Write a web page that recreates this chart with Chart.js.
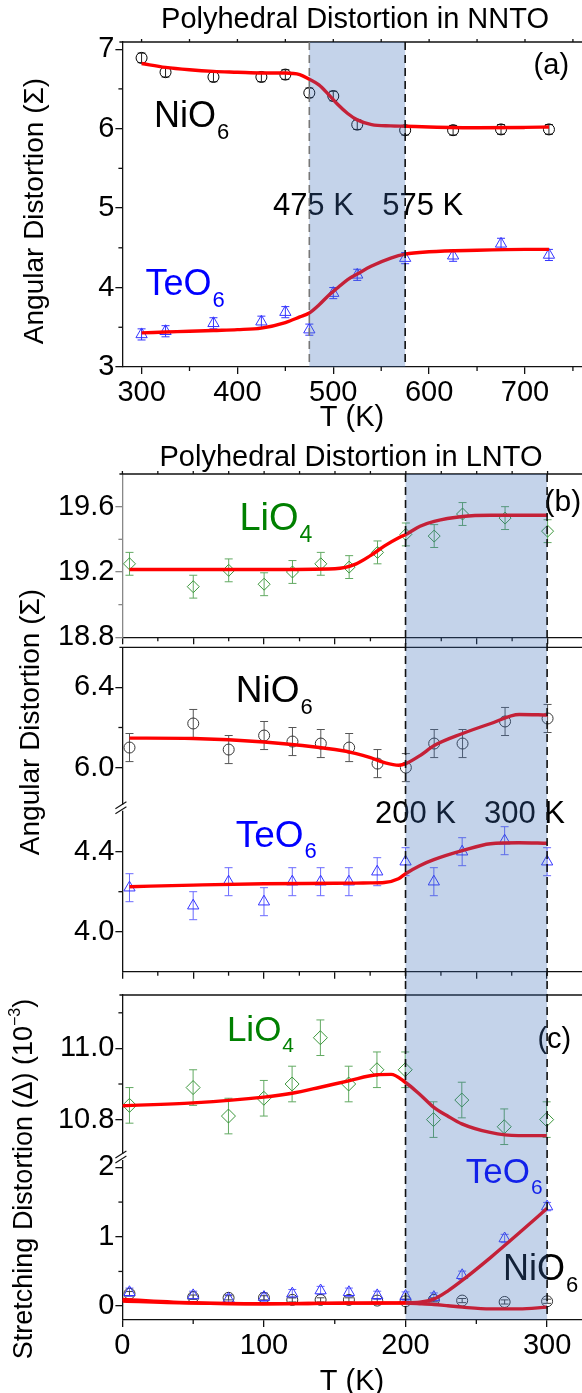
<!DOCTYPE html>
<html>
<head>
<meta charset="utf-8">
<script src="https://cdn.jsdelivr.net/npm/chart.js@4.4.1/dist/chart.umd.min.js"></script>
<style>
  html, body { margin: 0; padding: 0; background: #fff; overflow: hidden; }
  #page { position: relative; width: 582px; height: 1393px; overflow: hidden; }
  #page canvas { position: absolute; left: 0; top: 0; }
</style>
</head>
<body>
<div id="page"></div>
<script>
// ---- (a) NNTO, angular distortion ----
var aTemp = [300, 325, 375, 425, 450, 475, 500, 525, 575, 625, 675, 725]
var aNiO6 = [6.89, 6.71, 6.65, 6.65, 6.68, 6.45, 6.41, 6.05, 5.98, 5.98, 5.99, 5.99]
var aNiO6Err = [0.06, 0.06, 0.06, 0.06, 0.06, 0.06, 0.06, 0.06, 0.06, 0.06, 0.06, 0.06]
var aTeO6 = [3.41, 3.45, 3.55, 3.57, 3.69, 3.47, 3.93, 4.16, 4.37, 4.40, 4.55, 4.41]
var aTeO6Err = [0.07, 0.07, 0.07, 0.07, 0.07, 0.07, 0.07, 0.07, 0.07, 0.07, 0.07, 0.07]
var aFitTemp = [300, 325, 350, 375, 400, 425, 450, 465, 475, 485, 495, 505, 515, 525, 540, 560, 575, 600, 650, 700, 725]
var aNiO6Fit = [6.82, 6.77, 6.74, 6.72, 6.71, 6.70, 6.70, 6.68, 6.62, 6.55, 6.43, 6.30, 6.19, 6.11, 6.05, 6.035, 6.03, 6.02, 6.01, 6.015, 6.02]
var aTeO6Fit = [3.43, 3.44, 3.45, 3.46, 3.47, 3.49, 3.56, 3.63, 3.68, 3.78, 3.90, 4.00, 4.10, 4.17, 4.27, 4.37, 4.42, 4.45, 4.47, 4.48, 4.48]
var aTransition = [475, 575]
var aTicksX = [300, 400, 500, 600, 700]
var aMinorX = [350, 450, 550, 650, 750]
var aTicksY = [3, 4, 5, 6, 7]
var aMinorY = [3.5, 4.5, 5.5, 6.5]

// ---- (b) LNTO, angular distortion ----
var bTemp = [5, 50, 75, 100, 120, 140, 160, 180, 200, 220, 240, 270, 300]
var bLiO4 = [19.25, 19.11, 19.21, 19.125, 19.20, 19.25, 19.23, 19.32, 19.43, 19.42, 19.555, 19.53, 19.45]
var bNiO6 = [6.10, 6.22, 6.09, 6.16, 6.13, 6.12, 6.10, 6.02, 6.00, 6.12, 6.12, 6.23, 6.245]
var bTeO6 = [4.22, 4.13, 4.25, 4.15, 4.25, 4.25, 4.25, 4.30, 4.35, 4.25, 4.40, 4.455, 4.35]
var bErr = [0.07, 0.07, 0.07, 0.07, 0.07, 0.07, 0.07, 0.07, 0.07, 0.07, 0.07, 0.07, 0.07]
var bFitTemp = [5, 50, 100, 150, 165, 175, 185, 195, 200, 210, 220, 240, 260, 280, 300]
var bLiO4Fit = [19.215, 19.215, 19.215, 19.22, 19.25, 19.30, 19.36, 19.41, 19.43, 19.48, 19.51, 19.54, 19.547, 19.547, 19.547]
var bNiO6Fit = [6.147, 6.145, 6.128, 6.09, 6.07, 6.05, 6.025, 6.012, 6.02, 6.06, 6.11, 6.17, 6.22, 6.265, 6.262]
var bTeO6Fit = [4.225, 4.233, 4.24, 4.242, 4.243, 4.244, 4.246, 4.265, 4.29, 4.33, 4.36, 4.405, 4.44, 4.445, 4.442]
var lowTransition = [200, 300]

// ---- (c) LNTO, stretching distortion ----
var cLiO4 = [10.84, 10.89, 10.81, 10.86, 10.90, 11.03, 10.90, 10.94, 10.94, 10.80, 10.855, 10.78, 10.80]
var cLiO4Err = [0.05, 0.05, 0.05, 0.05, 0.05, 0.05, 0.05, 0.05, 0.05, 0.05, 0.05, 0.05, 0.05]
var cTeO6 = [0.20, 0.155, 0.105, 0.13, 0.18, 0.225, 0.20, 0.155, 0.145, 0.13, 0.445, 0.975, 1.435]
var cTeO6Err = [0.06, 0.06, 0.06, 0.06, 0.06, 0.06, 0.06, 0.06, 0.06, 0.06, 0.06, 0.06, 0.06]
var cNiO6 = [0.18, 0.13, 0.12, 0.12, 0.09, 0.09, 0.09, 0.08, 0.07, 0.09, 0.08, 0.06, 0.07]
var cNiO6Err = [0.03, 0.03, 0.03, 0.03, 0.03, 0.03, 0.03, 0.03, 0.03, 0.03, 0.03, 0.03, 0.03]
var cFitTemp = [0, 50, 100, 120, 140, 160, 180, 190, 200, 210, 220, 230, 240, 260, 280, 300]
var cLiO4Fit = [10.839, 10.847, 10.863, 10.874, 10.891, 10.909, 10.926, 10.927, 10.905, 10.872, 10.835, 10.81, 10.788, 10.764, 10.755, 10.755]
var cTeO6Fit = [0.097, 0.048, 0.034, 0.036, 0.04, 0.043, 0.046, 0.047, 0.048, 0.055, 0.10, 0.22, 0.37, 0.70, 1.05, 1.41]
var cNiO6Fit = [0.072, 0.043, 0.034, 0.036, 0.04, 0.043, 0.044, 0.044, 0.043, 0.035, 0.024, 0.005, -0.015, -0.04, -0.04, -0.015]

var lowTicks50 = [0, 50, 100, 150, 200, 250, 300]
var lowMinor25 = [25, 75, 125, 175, 225, 275]
var lowTicks100 = [0, 100, 200, 300]
var lowMinor50 = [50, 150, 250]

var W = 590, H = 1393, AXIS_X = 122.4, RIGHT = 583
var FONT = '"Liberation Sans", Arial, Helvetica, sans-serif'
var INK = '#111'
var SHADE = 'rgba(58, 108, 185, 0.3)'

Chart.defaults.font.family = FONT

function xy(xs, ys) {
  return xs.map(function (x, i) { return { x: x, y: ys[i] } })
}

function seg(ctx, x0, y0, x1, y1) {
  ctx.beginPath()
  ctx.moveTo(x0, y0)
  ctx.lineTo(x1, y1)
  ctx.stroke()
}

function points(xs, ys, errs, style, radius, color, barColor) {
  return {
    data: xy(xs, ys), errors: errs, barColor: barColor,
    showLine: false, pointStyle: style, pointRadius: radius,
    borderColor: color, backgroundColor: 'rgba(0,0,0,0)', pointBorderWidth: 1, order: 2
  }
}

function fit(xs, ys) {
  return {
    data: xy(xs, ys), showLine: true, borderColor: '#ff0000', borderWidth: 3.4,
    pointRadius: 0, cubicInterpolationMode: 'monotone', fill: false, order: 0
  }
}

// vertical error bars with caps, under the markers
var errorBars = {
  id: 'errorBars',
  beforeDatasetsDraw: function (chart) {
    var ctx = chart.ctx, ys = chart.scales.y
    chart.data.datasets.forEach(function (ds, i) {
      if (!ds.errors) return
      var meta = chart.getDatasetMeta(i)
      ctx.save()
      ctx.strokeStyle = ds.barColor
      ctx.lineWidth = 1
      meta.data.forEach(function (pt, j) {
        var v = ds.data[j].y, e = ds.errors[j]
        var t = ys.getPixelForValue(v + e), b = ys.getPixelForValue(v - e)
        seg(ctx, pt.x, t, pt.x, b)
        seg(ctx, pt.x - 4, t, pt.x + 4, t)
        seg(ctx, pt.x - 4, b, pt.x + 4, b)
      })
      ctx.restore()
    })
  }
}

// minor ticks, top border and axis-break marks
var frame = {
  id: 'frame',
  afterDraw: function (chart, args, o) {
    var ctx = chart.ctx, a = chart.chartArea, xs = chart.scales.x, ys = chart.scales.y
    ctx.save()
    ctx.lineWidth = 1.3
    ctx.strokeStyle = o.yColor || INK
    ;(o.yMinor || []).forEach(function (v) {
      var p = ys.getPixelForValue(v)
      seg(ctx, a.left - 4, p, a.left, p)
    })
    ctx.strokeStyle = INK
    ;(o.xMinor || []).forEach(function (v) {
      var p = xs.getPixelForValue(v)
      seg(ctx, p, a.bottom, p, a.bottom + 4)
    })
    if (o.top) {
      seg(ctx, a.left - 3, a.top, a.right, a.top)
      ;(o.topTicks || []).forEach(function (v) {
        var p = xs.getPixelForValue(v)
        seg(ctx, p, a.top, p, a.top - 3)
      })
    }
    if (o.brk) {
      ctx.fillStyle = '#fff'
      ctx.fillRect(a.left - 2, a.top - 3, 4, 6)
      ctx.lineWidth = 1.1
      seg(ctx, a.left - 7, a.top + 1, a.left + 4, a.top - 6)
      seg(ctx, a.left - 7, a.top + 6, a.left + 4, a.top - 1)
    }
    ctx.restore()
  }
}

// series names and annotations placed in data units
var notes = {
  id: 'notes',
  afterDatasetsDraw: function (chart, args, o) {
    var ctx = chart.ctx, xs = chart.scales.x, ys = chart.scales.y
    ;(o.items || []).forEach(function (n) {
      var x = xs.getPixelForValue(n.x), y = ys.getPixelForValue(n.y)
      ctx.save()
      ctx.fillStyle = n.color || '#000'
      ctx.textAlign = 'left'
      ctx.textBaseline = 'alphabetic'
      ctx.font = n.size + 'px ' + FONT
      ctx.fillText(n.text, x, y)
      if (n.sub) {
        var w = ctx.measureText(n.text).width
        ctx.font = Math.round(n.size * 0.6) + 'px ' + FONT
        ctx.fillText(n.sub, x + w + 1, y + n.size * 0.32)
      }
      ctx.restore()
    })
  }
}

// axis titles and panel headings, page units
var texts = {
  id: 'texts',
  afterDraw: function (chart, args, o) {
    var ctx = chart.ctx
    ;(o.items || []).forEach(function (t) {
      ctx.save()
      ctx.translate(t.x, t.y)
      if (t.rotate) ctx.rotate(-Math.PI / 2)
      ctx.fillStyle = '#000'
      ctx.textBaseline = 'middle'
      ctx.textAlign = 'left'
      var f = t.size + 'px ' + FONT, fs = Math.round(t.size * 0.6) + 'px ' + FONT
      ctx.font = f
      var w1 = ctx.measureText(t.text).width, w2 = 0, w3 = 0
      if (t.sup) {
        w3 = ctx.measureText(t.tail).width
        ctx.font = fs
        w2 = ctx.measureText(t.sup).width
        ctx.font = f
      }
      var x = -(w1 + w2 + w3) / 2
      ctx.fillText(t.text, x, 0)
      if (t.sup) {
        ctx.font = fs
        ctx.fillText(t.sup, x + w1, -t.size * 0.36)
        ctx.font = f
        ctx.fillText(t.tail, x + w1 + w2, 0)
      }
      ctx.restore()
    })
  }
}

// transition band and dashed markers, drawn over everything beneath
var band = {
  id: 'band',
  afterDraw: function (chart, args, o) {
    if (!o.range) return
    var ctx = chart.ctx, a = chart.chartArea, xs = chart.scales.x
    var top = o.top != null ? o.top : a.top
    var x0 = xs.getPixelForValue(o.range[0]), x1 = xs.getPixelForValue(o.range[1])
    ctx.save()
    ctx.fillStyle = SHADE
    ctx.fillRect(x0, top, x1 - x0, a.bottom - top)
    ctx.lineWidth = 1.6
    ctx.setLineDash([8, 5])
    o.range.forEach(function (v, i) {
      var p = xs.getPixelForValue(v)
      ctx.strokeStyle = o.colors[i]
      seg(ctx, p, top, p, a.bottom)
    })
    ctx.restore()
  }
}

function panel(o) {
  var cvs = document.createElement('canvas')
  cvs.width = W
  cvs.height = H
  document.getElementById('page').appendChild(cvs)
  var xShow = o.xH > 0
  var yColor = o.yColor || INK
  return new Chart(cvs, {
    type: 'scatter',
    data: { datasets: o.datasets },
    options: {
      responsive: false,
      animation: false,
      devicePixelRatio: 1,
      events: [],
      layout: { padding: { left: 0, right: W - RIGHT, top: o.top, bottom: H - o.bottom - o.xH } },
      plugins: {
        legend: { display: false },
        tooltip: { enabled: false },
        frame: { yMinor: o.yMinor, xMinor: o.xMinor, yColor: yColor, top: o.topLine, topTicks: o.topTicks, brk: o.brk },
        notes: { items: o.notes || [] },
        texts: { items: o.texts || [] },
        band: o.band || {}
      },
      scales: {
        x: {
          type: 'linear', min: o.xMin, max: o.xMax, display: xShow,
          afterFit: function (s) { s.height = o.xH },
          afterBuildTicks: function (s) { s.ticks = o.xTicks.map(function (v) { return { value: v } }) },
          grid: { drawOnChartArea: false, tickLength: 7, color: INK, lineWidth: 1.3 },
          border: { color: INK, width: 1.3 },
          ticks: { display: !!o.xLabels, color: '#000', font: { size: 29 }, padding: 2, maxRotation: 0, autoSkip: false }
        },
        y: {
          type: 'linear', min: o.yMin, max: o.yMax,
          afterFit: function (s) { s.width = AXIS_X },
          afterBuildTicks: function (s) { s.ticks = o.yTicks.map(function (v) { return { value: v } }) },
          grid: { drawOnChartArea: false, tickLength: 7, color: yColor, lineWidth: 1.3 },
          border: { color: yColor, width: 1.3 },
          ticks: {
            color: '#000', font: { size: 29 }, padding: 1, autoSkip: false,
            callback: function (v) { return v.toFixed(o.dec) }
          }
        }
      }
    },
    plugins: [errorBars, frame, notes, texts, band]
  })
}

var BLUE = '#3535ff', BLUE_BAR = '#6a6aff'
var GREEN = '#3a963a', GREEN_BAR = '#62aa62'

// (a)
panel({
  top: 42, bottom: 367, xH: 50, xLabels: true,
  xMin: 280, xMax: 760, yMin: 3, yMax: 7.09, dec: 0,
  xTicks: aTicksX, xMinor: aMinorX, yTicks: aTicksY, yMinor: aMinorY,
  topLine: true, topTicks: aTicksX.concat(aMinorX),
  datasets: [
    fit(aFitTemp, aNiO6Fit),
    fit(aFitTemp, aTeO6Fit),
    points(aTemp, aNiO6, aNiO6Err, 'circle', 5.5, '#000', '#222'),
    points(aTemp, aTeO6, aTeO6Err, 'triangle', 6.5, BLUE, BLUE)
  ],
  notes: [
    { x: 313, y: 6.02, text: 'NiO', sub: '6', color: '#000', size: 36 },
    { x: 304, y: 3.906, text: 'TeO', sub: '6', color: '#0000ff', size: 36 },
    { x: 437, y: 4.914, text: '475 K', size: 31 },
    { x: 551, y: 4.914, text: '575 K', size: 31 },
    { x: 709, y: 6.69, text: '(a)', size: 29 }
  ],
  texts: [
    { text: 'Polyhedral Distortion in NNTO', x: 355, y: 20, size: 29 },
    { text: 'Angular Distortion (Σ)', x: 35, y: 211, size: 28, rotate: true },
    { text: 'T (K)', x: 352, y: 418, size: 29 }
  ],
  band: { range: aTransition, colors: ['#777', INK] }
})

// (b) LiO4
panel({
  top: 474, bottom: 637.3, xH: 8,
  xMin: 0, xMax: 325, yMin: 18.8, yMax: 19.8, dec: 1, yColor: '#888',
  xTicks: lowTicks50, xMinor: lowMinor25, yTicks: [18.8, 19.2, 19.6], yMinor: [19.0, 19.4],
  topLine: true, topTicks: lowTicks50.concat(lowMinor25),
  datasets: [
    fit(bFitTemp, bLiO4Fit),
    points(bTemp, bLiO4, bErr, 'rectRot', 6, GREEN, GREEN_BAR)
  ],
  notes: [
    { x: 82.6, y: 19.457, text: 'LiO', sub: '4', color: '#008000', size: 38 },
    { x: 297.8, y: 19.575, text: '(b)', size: 30 }
  ]
})

// (b) NiO6, upper part of the broken axis
panel({
  top: 647.3, bottom: 807.7, xH: 0,
  xMin: 0, xMax: 325, yMin: 5.8, yMax: 6.6, dec: 1,
  xTicks: lowTicks50, yTicks: [6.0, 6.4], yMinor: [6.2],
  topLine: true,
  datasets: [
    fit(bFitTemp, bNiO6Fit),
    points(bTemp, bNiO6, bErr, 'circle', 5.5, '#333', '#555')
  ],
  notes: [
    { x: 80, y: 6.325, text: 'NiO', sub: '6', color: '#000', size: 37 }
  ]
})

// (b) TeO6, lower part of the broken axis
panel({
  top: 807.7, bottom: 971.7, xH: 8,
  xMin: 0, xMax: 325, yMin: 3.8, yMax: 4.62, dec: 1,
  xTicks: lowTicks50, xMinor: lowMinor25, yTicks: [4.0, 4.4], yMinor: [4.2],
  brk: true,
  datasets: [
    fit(bFitTemp, bTeO6Fit),
    points(bTemp, bTeO6, bErr, 'triangle', 6.5, BLUE, BLUE_BAR)
  ],
  notes: [
    { x: 80, y: 4.426, text: 'TeO', sub: '6', color: '#0000ff', size: 37 },
    { x: 178.4, y: 4.5445, text: '200 K', size: 31 },
    { x: 255.4, y: 4.5445, text: '300 K', size: 31 }
  ]
})

// (c) LiO4, upper part
panel({
  top: 995, bottom: 1157, xH: 0,
  xMin: 0, xMax: 325, yMin: 10.695, yMax: 11.15, dec: 1,
  xTicks: lowTicks100, yTicks: [10.8, 11.0], yMinor: [10.9, 11.1],
  topLine: true,
  datasets: [
    fit(cFitTemp, cLiO4Fit),
    points(bTemp, cLiO4, cLiO4Err, 'rectRot', 7, GREEN, GREEN_BAR)
  ],
  notes: [
    { x: 73.9, y: 11.022, text: 'LiO', sub: '4', color: '#008000', size: 35 },
    { x: 293.5, y: 11.0, text: '(c)', size: 29 }
  ]
})

// (c) TeO6 and NiO6, lower part; also carries the shared band of (b) and (c)
panel({
  top: 1157, bottom: 1320, xH: H - 1320, xLabels: true,
  xMin: 0, xMax: 325, yMin: -0.2, yMax: 2.15, dec: 0,
  xTicks: lowTicks100, xMinor: lowMinor50, yTicks: [0, 1, 2], yMinor: [0.5, 1.5],
  brk: true,
  datasets: [
    fit(cFitTemp, cTeO6Fit),
    fit(cFitTemp, cNiO6Fit),
    points(bTemp, cTeO6, cTeO6Err, 'triangle', 6.5, BLUE, BLUE_BAR),
    points(bTemp, cNiO6, cNiO6Err, 'circle', 5.5, '#333', '#444')
  ],
  notes: [
    { x: 242.6, y: 1.778, text: 'TeO', sub: '6', color: '#0000ff', size: 35 },
    { x: 268.8, y: 0.372, text: 'NiO', sub: '6', color: '#000', size: 36 }
  ],
  texts: [
    { text: 'Polyhedral Distortion in LNTO', x: 351, y: 458, size: 29 },
    { text: 'Angular Distortion (Σ)', x: 31, y: 722, size: 28, rotate: true },
    { text: 'Stretching Distortion (Δ) (10', sup: '−3', tail: ')', x: 25, y: 1179, size: 27, rotate: true },
    { text: 'T (K)', x: 352, y: 1382, size: 29 }
  ],
  band: { range: lowTransition, colors: [INK, INK], top: 474 }
})
</script>
</body>
</html>
